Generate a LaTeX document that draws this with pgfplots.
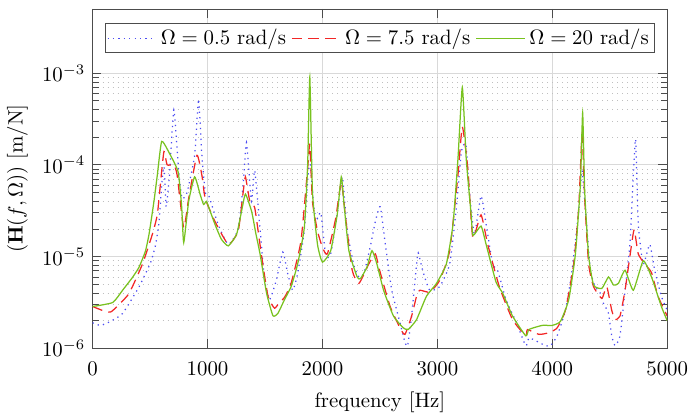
\documentclass[border=0pt]{standalone}
\usepackage{pgfplots}
\pgfplotsset{compat=1.18}
\usepackage{pgfplotstable}
\definecolor{cblue}{rgb}{0.3,0.3,0.95}
\definecolor{cred}{rgb}{0.95,0.15,0.15}
\definecolor{cgreen}{rgb}{0.47,0.76,0.12}

\pgfplotstableread{
f y
0 1.9e-6
70 1.78e-6
150 1.95e-6
261 2.4e-6
405 4.7e-6
506 8.7e-6
549 1.36e-5
578 2.4e-5
606 7.1e-5
622 9.5e-5
640 3.5e-5
670 8e-5
707 3.98e-4
750 8.4e-5
778 4.3e-5
822 5e-5
888 1.27e-4
922 5.2e-4
951 1.27e-4
980 5e-5
1009 4.7e-5
1095 2.2e-5
1181 1.36e-5
1267 2e-5
1310 6e-5
1339 1.75e-4
1382 4e-5
1411 8.7e-5
1457 2e-5
1497 5.5e-6
1540 3.4e-6
1598 5.5e-6
1655 1.12e-5
1698 6.5e-6
1741 4.3e-6
1784 6.5e-6
1842 1.9e-5
1876 8e-5
1895 1.0e-4
1928 3.2e-5
1957 2.6e-5
1986 3.0e-5
2029 1.02e-5
2072 1.07e-5
2129 2.9e-5
2173 7.4e-5
2216 1.9e-5
2274 8.0e-6
2317 6e-6
2360 6.5e-6
2417 1.3e-5
2460 2.4e-5
2503 3.5e-5
2546 1.4e-5
2603 4.3e-6
2675 1.9e-6
2718 1.16e-6
2741 1.07e-6
2776 2.25e-6
2819 8.3e-6
2833 1.1e-5
2877 6.7e-6
2934 4.3e-6
3020 4.7e-6
3107 8.3e-6
3165 3.4e-5
3208 1.37e-4
3236 1.7e-4
3250 1.6e-4
3279 5.1e-5
3322 1.75e-5
3380 4.6e-5
3424 2.25e-5
3481 8.3e-6
3524 7.1e-6
3597 3.4e-6
3683 1.97e-6
3769 1.07e-6
3798 1.3e-6
3884 1.16e-6
3942 1.07e-6
3985 1.07e-6
4042 1.37e-6
4114 2.6e-6
4172 7.1e-6
4230 3.2e-5
4259 8.7e-5
4287 3.4e-5
4331 7.1e-6
4374 4.7e-6
4417 4.0e-6
4445 3.1e-6
4489 2.4e-6
4517 1.37e-6
4546 1.07e-6
4589 1.37e-6
4633 4.3e-6
4675 1.36e-5
4705 7.7e-5
4725 1.9e-4
4748 2.25e-5
4791 8.3e-6
4848 1.36e-5
4891 7.1e-6
4949 3.7e-6
5000 2.6e-6
}\dataA

\pgfplotstableread{
f y
0 2.86e-6
100 2.55e-6
160 2.5e-6
230 3.0e-6
319 4e-6
434 8.3e-6
520 1.75e-5
563 2.85e-5
592 6.5e-5
621 1.4e-4
649 1.0e-4
707 1.0e-4
736 7.7e-5
793 2.06e-5
836 4.3e-5
908 1.27e-4
951 7.7e-5
980 4.3e-5
1066 2.4e-5
1181 1.36e-5
1267 1.9e-5
1310 5e-5
1330 7.4e-5
1368 4e-5
1411 3.4e-5
1468 1.07e-5
1526 3.7e-6
1583 2.74e-6
1620 3.1e-6
1670 3.6e-6
1727 5.1e-6
1813 1.48e-5
1871 9.1e-5
1890 1.67e-4
1913 4e-5
1957 1.9e-5
2000 1.26e-5
2043 1.07e-5
2115 2.6e-5
2164 6.5e-5
2202 2.6e-5
2259 7.1e-6
2317 5.1e-6
2403 8.3e-6
2460 1.07e-5
2503 6.7e-6
2589 2.86e-6
2675 1.67e-6
2718 1.42e-6
2776 2.25e-6
2819 3.7e-6
2848 4.3e-6
2934 4.1e-6
3020 5.5e-6
3107 1.16e-5
3179 7.7e-5
3217 2.6e-4
3265 9.1e-5
3308 1.62e-5
3380 2.85e-5
3438 1.36e-5
3539 4.7e-6
3654 2.06e-6
3769 1.37e-6
3784 1.6e-6
3884 1.42e-6
3970 1.48e-6
4042 1.67e-6
4114 2.6e-6
4186 8.3e-6
4230 3.4e-5
4259 2.15e-4
4282 4.3e-5
4316 8.3e-6
4359 4.7e-6
4431 3.5e-6
4474 4.7e-6
4517 2.6e-6
4546 2.06e-6
4589 2.25e-6
4633 4.3e-6
4690 1.36e-5
4713 1.97e-5
4748 1.07e-5
4805 8.3e-6
4863 6.7e-6
4920 3.7e-6
5000 2.25e-6
}\dataB

\pgfplotstableread{
f y
0 2.86e-6
175 3.16e-6
261 4.3e-6
350 6.0e-6
405 7.7e-6
460 1.15e-5
491 1.75e-5
534 4e-5
563 7.7e-5
601 1.8e-4
664 1.37e-4
744 8.4e-5
775 3.5e-5
793 1.42e-5
836 4e-5
888 7.4e-5
937 4.7e-5
966 3.7e-5
991 4.0e-5
1020 3.2e-5
1066 2.23e-5
1120 1.55e-5
1181 1.31e-5
1253 1.75e-5
1300 3.3e-5
1330 4.8e-5
1384 3.1e-5
1420 1.8e-5
1457 1.07e-5
1514 4e-6
1569 2.27e-6
1612 2.4e-6
1670 3.4e-6
1727 4.7e-6
1784 8.3e-6
1842 2.06e-5
1871 9.8e-5
1890 9.06e-4
1913 5.1e-5
1957 1.36e-5
2000 8.7e-6
2072 1.16e-5
2129 2.9e-5
2164 7.4e-5
2188 3.7e-5
2230 1.16e-5
2302 6e-6
2331 5.76e-6
2388 7.7e-6
2431 1.16e-5
2474 8.3e-6
2532 4.3e-6
2618 2.25e-6
2704 1.67e-6
2747 1.61e-6
2819 2.06e-6
2905 3.7e-6
2992 5.1e-6
3078 8.3e-6
3136 2.25e-5
3179 1.16e-4
3217 7.0e-4
3251 1.16e-4
3294 2.85e-5
3310 1.7e-5
3380 2.15e-5
3424 1.36e-5
3510 5.3e-6
3568 4e-6
3654 2.25e-6
3769 1.37e-6
3798 1.61e-6
3913 1.78e-6
3999 1.78e-6
4071 1.97e-6
4143 3.4e-6
4201 1.07e-5
4244 6.0e-5
4264 3.7e-4
4282 5.1e-5
4316 1.02e-5
4359 4.9e-6
4431 4.5e-6
4489 6e-6
4532 4.9e-6
4575 5.1e-6
4633 7.1e-6
4705 4.3e-6
4791 9.0e-6
4863 6e-6
4949 2.86e-6
5000 2.0e-6
}\dataC

\begin{document}
\begin{tikzpicture}
\begin{axis}[
  width=276pt, height=163pt, scale only axis,
  xmin=0, xmax=5000,
  ymode=log, ymin=1e-6, ymax=5e-3,
  xtick={0,1000,2000,3000,4000,5000},
  ytick={1e-6,1e-5,1e-4,1e-3},
  scaled x ticks=false,
  xticklabel style={/pgf/number format/1000 sep={}, yshift=-3pt},
  tick align=inside,
  axis line style={black!70},
  every tick/.style={black!70},
  xmajorgrids, ymajorgrids, yminorgrids,
  major grid style={solid, black!15, line width=0.4pt},
  minor grid style={dotted, black!25, line width=0.4pt},
  xlabel={frequency [Hz]},
  ylabel={$(\mathbf{H}(f,\Omega))$ [m/N]},
  xlabel style={yshift=-1pt},
  legend style={at={(0.5,0.958)}, anchor=north, legend columns=3,
    draw=black!70, fill=white, inner sep=0.5pt,
    /tikz/every even column/.append style={column sep=0.5pt}},
  legend cell align=left,
  legend image code/.code={\draw[#1] (0cm,0cm) -- (0.82cm,0cm);},
  every axis plot/.append style={smooth, tension=0.3},
]
\addplot[cblue, dotted, line width=0.6pt] table[x=f,y=y] {\dataA};
\addlegendentry{$\Omega = 0.5$ rad/s}
\addplot[cred, dash pattern=on 5pt off 3pt, line width=0.6pt] table[x=f,y=y] {\dataB};
\addlegendentry{$\Omega = 7.5$ rad/s}
\addplot[cgreen, solid, line width=0.6pt] table[x=f,y=y] {\dataC};
\addlegendentry{$\Omega = 20$ rad/s}
\end{axis}
\path ([yshift=4.3pt]current axis.north);
\end{tikzpicture}
\end{document}
